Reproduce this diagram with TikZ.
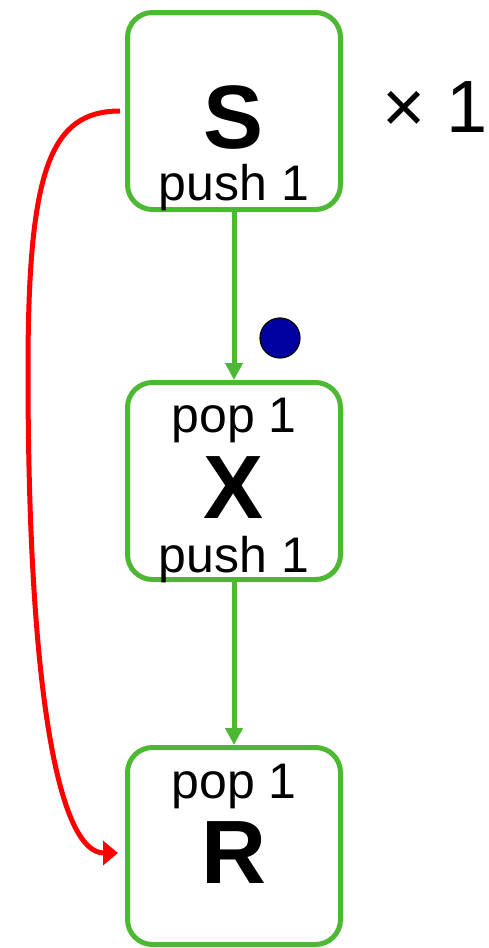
\documentclass[tikz,border=0pt]{standalone}
\usepackage{fontspec}
\setmainfont{Liberation Sans}
\usepackage{tikz}
\usetikzlibrary{arrows.meta,positioning}
\usepackage{xcolor}
\definecolor{boxgreen}{RGB}{77,184,51}
\definecolor{tokenblue}{RGB}{0,0,160}
\newcommand{\FName}[1]{{\fontsize{90}{90}\selectfont\bfseries #1}}
\begin{document}
\begin{tikzpicture}[x=1pt,y=1pt,
    filter/.style={draw=boxgreen,line width=5pt,rounded corners=25pt,
      minimum width=213pt,minimum height=197pt,inner sep=0pt},
    rate/.style={anchor=base,font=\fontsize{50}{50}\selectfont,inner sep=0pt},
    ftitle/.style={anchor=base,inner sep=0pt},
    chan/.style={-{Triangle[length=17pt,width=17pt]},draw=boxgreen,line width=5pt},
    back/.style={-{Triangle[length=15pt,width=24pt]},draw=red,line width=5pt}
  ]
    \useasboundingbox (0,0) rectangle (489,-948);

    \node[filter] (S) at (234,-111) {};
    \node[ftitle] (Sname) at (234,-148) {\FName{S}};
    \node[rate] (Spush) at (234,-200) {push 1};
    \node[anchor=base east,inner sep=0pt,font=\fontsize{74}{74}\selectfont]
      (mult) at (488,-132) {× 1};

    \node[filter] (X) at (234,-481) {};
    \node[rate] (Xpop) at (234,-432) {pop 1};
    \node[ftitle] (Xname) at (234,-518) {\FName{X}};
    \node[rate] (Xpush) at (234,-572) {push 1};

    \node[filter] (R) at (234,-846) {};
    \node[rate] (Rpop) at (234,-798) {pop 1};
    \node[ftitle] (Rname) at (234,-883) {\FName{R}};

    \node[circle,fill=tokenblue,draw=black,line width=1.2pt,
      minimum size=40pt,inner sep=0pt] (token) at (280,-338) {};

    \draw[chan] (S) -- (X);
    \draw[chan] (X) -- (R);

    \coordinate (from) at ([xshift=-5pt]S.west);
    \coordinate (to) at ([xshift=-7pt,yshift=-7pt]R.west);
    \draw[back] (from) .. controls (50,-111) and (28,-170) .. (28,-370)
      .. controls (28,-700) and (60,-853) .. (to);
\end{tikzpicture}
\end{document}
